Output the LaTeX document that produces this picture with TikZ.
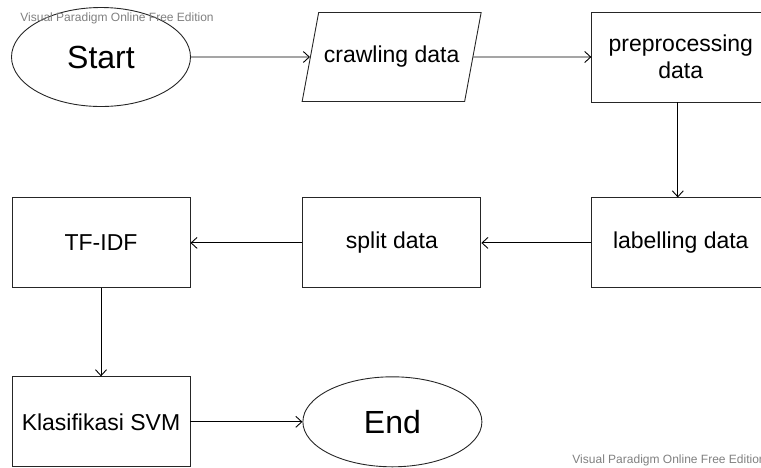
\documentclass[tikz,border=0pt]{standalone}
\usepackage{fontspec}
\setmainfont{Liberation Sans}
\usetikzlibrary{positioning,shapes.geometric,arrows.meta}

\begin{document}
\begin{tikzpicture}[x=1pt, y=-1pt, node distance={95pt and 111pt}, line width=0.9pt,
    >={Straight Barb[length=6pt,width=11pt]},
    main/.style = {draw, black!85, text=black, minimum width=178pt, minimum height=90pt, inner sep=2pt, font=\fontsize{23}{27}\selectfont},
    oval/.style = {main, ellipse, minimum width=179pt, font=\fontsize{32}{38}\selectfont},
    io/.style = {main, trapezium, trapezium left angle=57, trapezium right angle=123, trapezium stretches body=true, minimum width=179pt, minimum height=89pt},
    wmark/.style = {text=black!50, anchor=west, inner sep=0pt, font=\fontsize{12}{14}\selectfont}]
    \useasboundingbox (0,0) rectangle (761,467);
    \node[oval, minimum height=99pt] (1) at (101,57) {Start};
    \node[io] (2) [right=119pt of 1] {crawling data};
    \node[main, align=center] (3) [right=118pt of 2] {preprocessing\\data};
    \node[main] (4) [below=of 3] {labelling data};
    \node[main] (5) [left=110pt of 4] {split data};
    \node[main] (6) [left=112pt of 5] {TF-IDF};
    \node[main] (7) [below=88pt of 6] {Klasifikasi SVM};
    \node[oval] (8) [right=112pt of 7] {End};
    \draw[->] (1) -- (2);
    \draw[->] (2) -- (3);
    \draw[->] ([xshift=-3pt]3.south) -- ([xshift=-3pt]4.north);
    \draw[->] (4) -- (5);
    \draw[->] (5) -- (6);
    \draw[->] (6) -- (7);
    \draw[->] (7) -- (8);
    % watermarks
    \node[wmark] (w1) at (20,18) {Visual Paradigm Online Free Edition};
    \node[wmark] (w2) at (572,460) {Visual Paradigm Online Free Edition};
\end{tikzpicture}
\end{document}
